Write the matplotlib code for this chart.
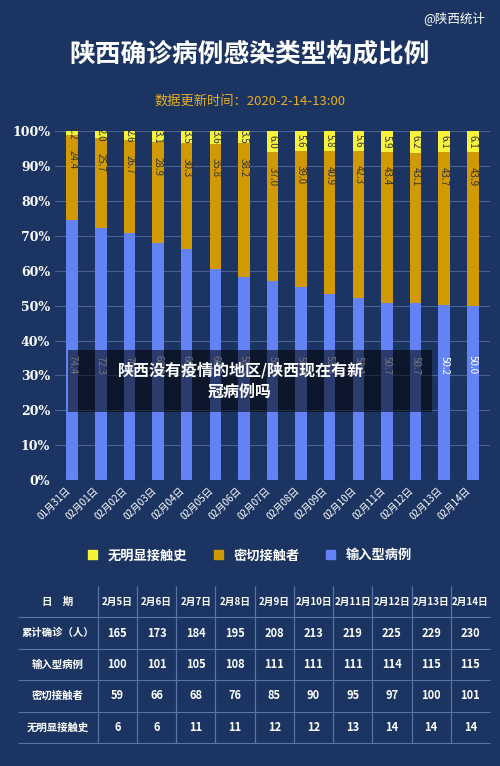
import matplotlib.pyplot as plt
import matplotlib.patches as mpatches

plt.rcParams['font.family'] = ['Noto Sans CJK SC', 'DejaVu Sans']

dates = ["01月31日", "02月01日", "02月02日", "02月03日", "02月04日", "02月05日", "02月06日", "02月07日",
         "02月08日", "02月09日", "02月10日", "02月11日", "02月12日", "02月13日", "02月14日"]
unknown = [1.2, 2.0, 2.6, 3.1, 3.5, 3.6, 3.5, 6.0, 5.6, 5.8, 5.6, 5.9, 6.2, 6.1, 6.1]
contact = [24.4, 25.7, 26.7, 28.9, 30.3, 35.8, 38.2, 37.0, 39.0, 40.9, 42.3, 43.4, 43.1, 43.7, 43.9]
imported = [74.4, 72.3, 70.7, 68.0, 66.2, 60.6, 58.3, 57.0, 55.4, 53.3, 52.1, 50.7, 50.7, 50.2, 50.0]

tbl_cols = ["日　期", "2月5日", "2月6日", "2月7日", "2月8日", "2月9日", "2月10日", "2月11日", "2月12日", "2月13日", "2月14日"]
tbl_rows = ["累计确诊（人）", "输入型病例", "密切接触者", "无明显接触史"]
total = [165, 173, 184, 195, 208, 213, 219, 225, 229, 230]
imp_n = [100, 101, 105, 108, 111, 111, 111, 114, 115, 115]
con_n = [59, 66, 68, 76, 85, 90, 95, 97, 100, 101]
unk_n = [6, 6, 11, 11, 12, 12, 13, 14, 14, 14]

bg = "#1b3462"
c_imp, c_con, c_unk = "#6383f5", "#d19a05", "#f7f23a"

fig = plt.figure(figsize=(5, 7.66), dpi=100, facecolor=bg)
fig.text(0.5, 0.93, "陕西确诊病例感染类型构成比例", color="white", fontsize=18.5, fontweight="bold", ha="center", va="center")
fig.text(0.97, 0.976, "@陕西统计", color="white", fontsize=9, ha="right", va="center")
fig.text(0.5, 0.868, "数据更新时间：2020-2-14-13:00", color="#e8b020", fontsize=9.5, ha="center", va="center")

ax = fig.add_axes([0.11, 0.373, 0.87, 0.456], facecolor=bg)
x = range(len(dates))
w = 0.4
ax.bar(x, imported, w, color=c_imp, zorder=2)
ax.bar(x, contact, w, bottom=imported, color=c_con, zorder=2)
bot2 = [a + b for a, b in zip(imported, contact)]
ax.bar(x, unknown, w, bottom=bot2, color=c_unk, zorder=2)
for i in x:
    ax.text(i, 100 - unknown[i] / 2, f"{unknown[i]:.1f}", rotation=270, ha="center", va="center", fontsize=7, color="#333333", zorder=3)
    ax.text(i, bot2[i] - 7, f"{contact[i]:.1f}", rotation=270, ha="center", va="center", fontsize=7, color="#333333", zorder=3)
    ax.text(i, 33, f"{imported[i]:.1f}", rotation=270, ha="center", va="center", fontsize=7, color="white", zorder=3)
ax.set_ylim(0, 100)
ax.set_xlim(-0.6, len(dates) - 0.4)
ax.set_yticks(range(0, 101, 10))
ax.set_yticklabels([f"{v}%" for v in range(0, 101, 10)], color="white", fontsize=9, fontweight="bold", family="DejaVu Serif")
ax.set_xticks(list(x))
ax.set_xticklabels(dates, rotation=45, ha="right", color="white", fontsize=7)
ax.grid(axis="y", color="#4a6090", lw=0.8, zorder=0)
for s in ax.spines.values():
    s.set_visible(False)
ax.tick_params(length=0)

handles = [mpatches.Patch(color=c_unk, label="无明显接触史"), mpatches.Patch(color=c_con, label="密切接触者"),
           mpatches.Patch(color=c_imp, label="输入型病例")]
leg = fig.legend(handles=handles, loc="center", bbox_to_anchor=(0.5, 0.275), ncol=3, frameon=False,
                 fontsize=9.5, handlelength=0.7, handleheight=0.7, columnspacing=2)
for t in leg.get_texts():
    t.set_color("white")
    t.set_fontweight("bold")

# overlay caption box
fig.patches.append(mpatches.Rectangle((0.136, 0.462), 0.728, 0.081, transform=fig.transFigure,
                                      facecolor="black", alpha=0.55, zorder=5))
fig.text(0.48, 0.503, "陕西没有疫情的地区/陕西现在有新\n冠病例吗", color="white", fontsize=11.5,
         fontweight="bold", ha="center", va="center", linespacing=1.4, zorder=6)

# table
tax = fig.add_axes([0.035, 0.03, 0.945, 0.205])
tax.axis("off")
data = [tbl_cols] + [[r] + [str(v) for v in vals] for r, vals in zip(tbl_rows, [total, imp_n, con_n, unk_n])]
widths = [0.17] + [0.083] * 10
tb = tax.table(cellText=data, cellLoc="center", colWidths=widths, bbox=[0, 0, 1, 1])
tb.auto_set_font_size(False)
for (r, c), cell in tb.get_celld().items():
    cell.set_facecolor(bg)
    cell.set_edgecolor("#5a73a8")
    cell.set_linewidth(0.8)
    cell.get_text().set_color("white")
    cell.get_text().set_fontweight("bold")
    cell.get_text().set_fontsize(7 if r == 0 else 8)
    if c == 0:
        cell.get_text().set_fontsize(7.5)
    cell.visible_edges = "BR" if c == 0 else ("BRL" if c < 10 else "BL")

fig.savefig("out.png", dpi=100, facecolor=bg)
